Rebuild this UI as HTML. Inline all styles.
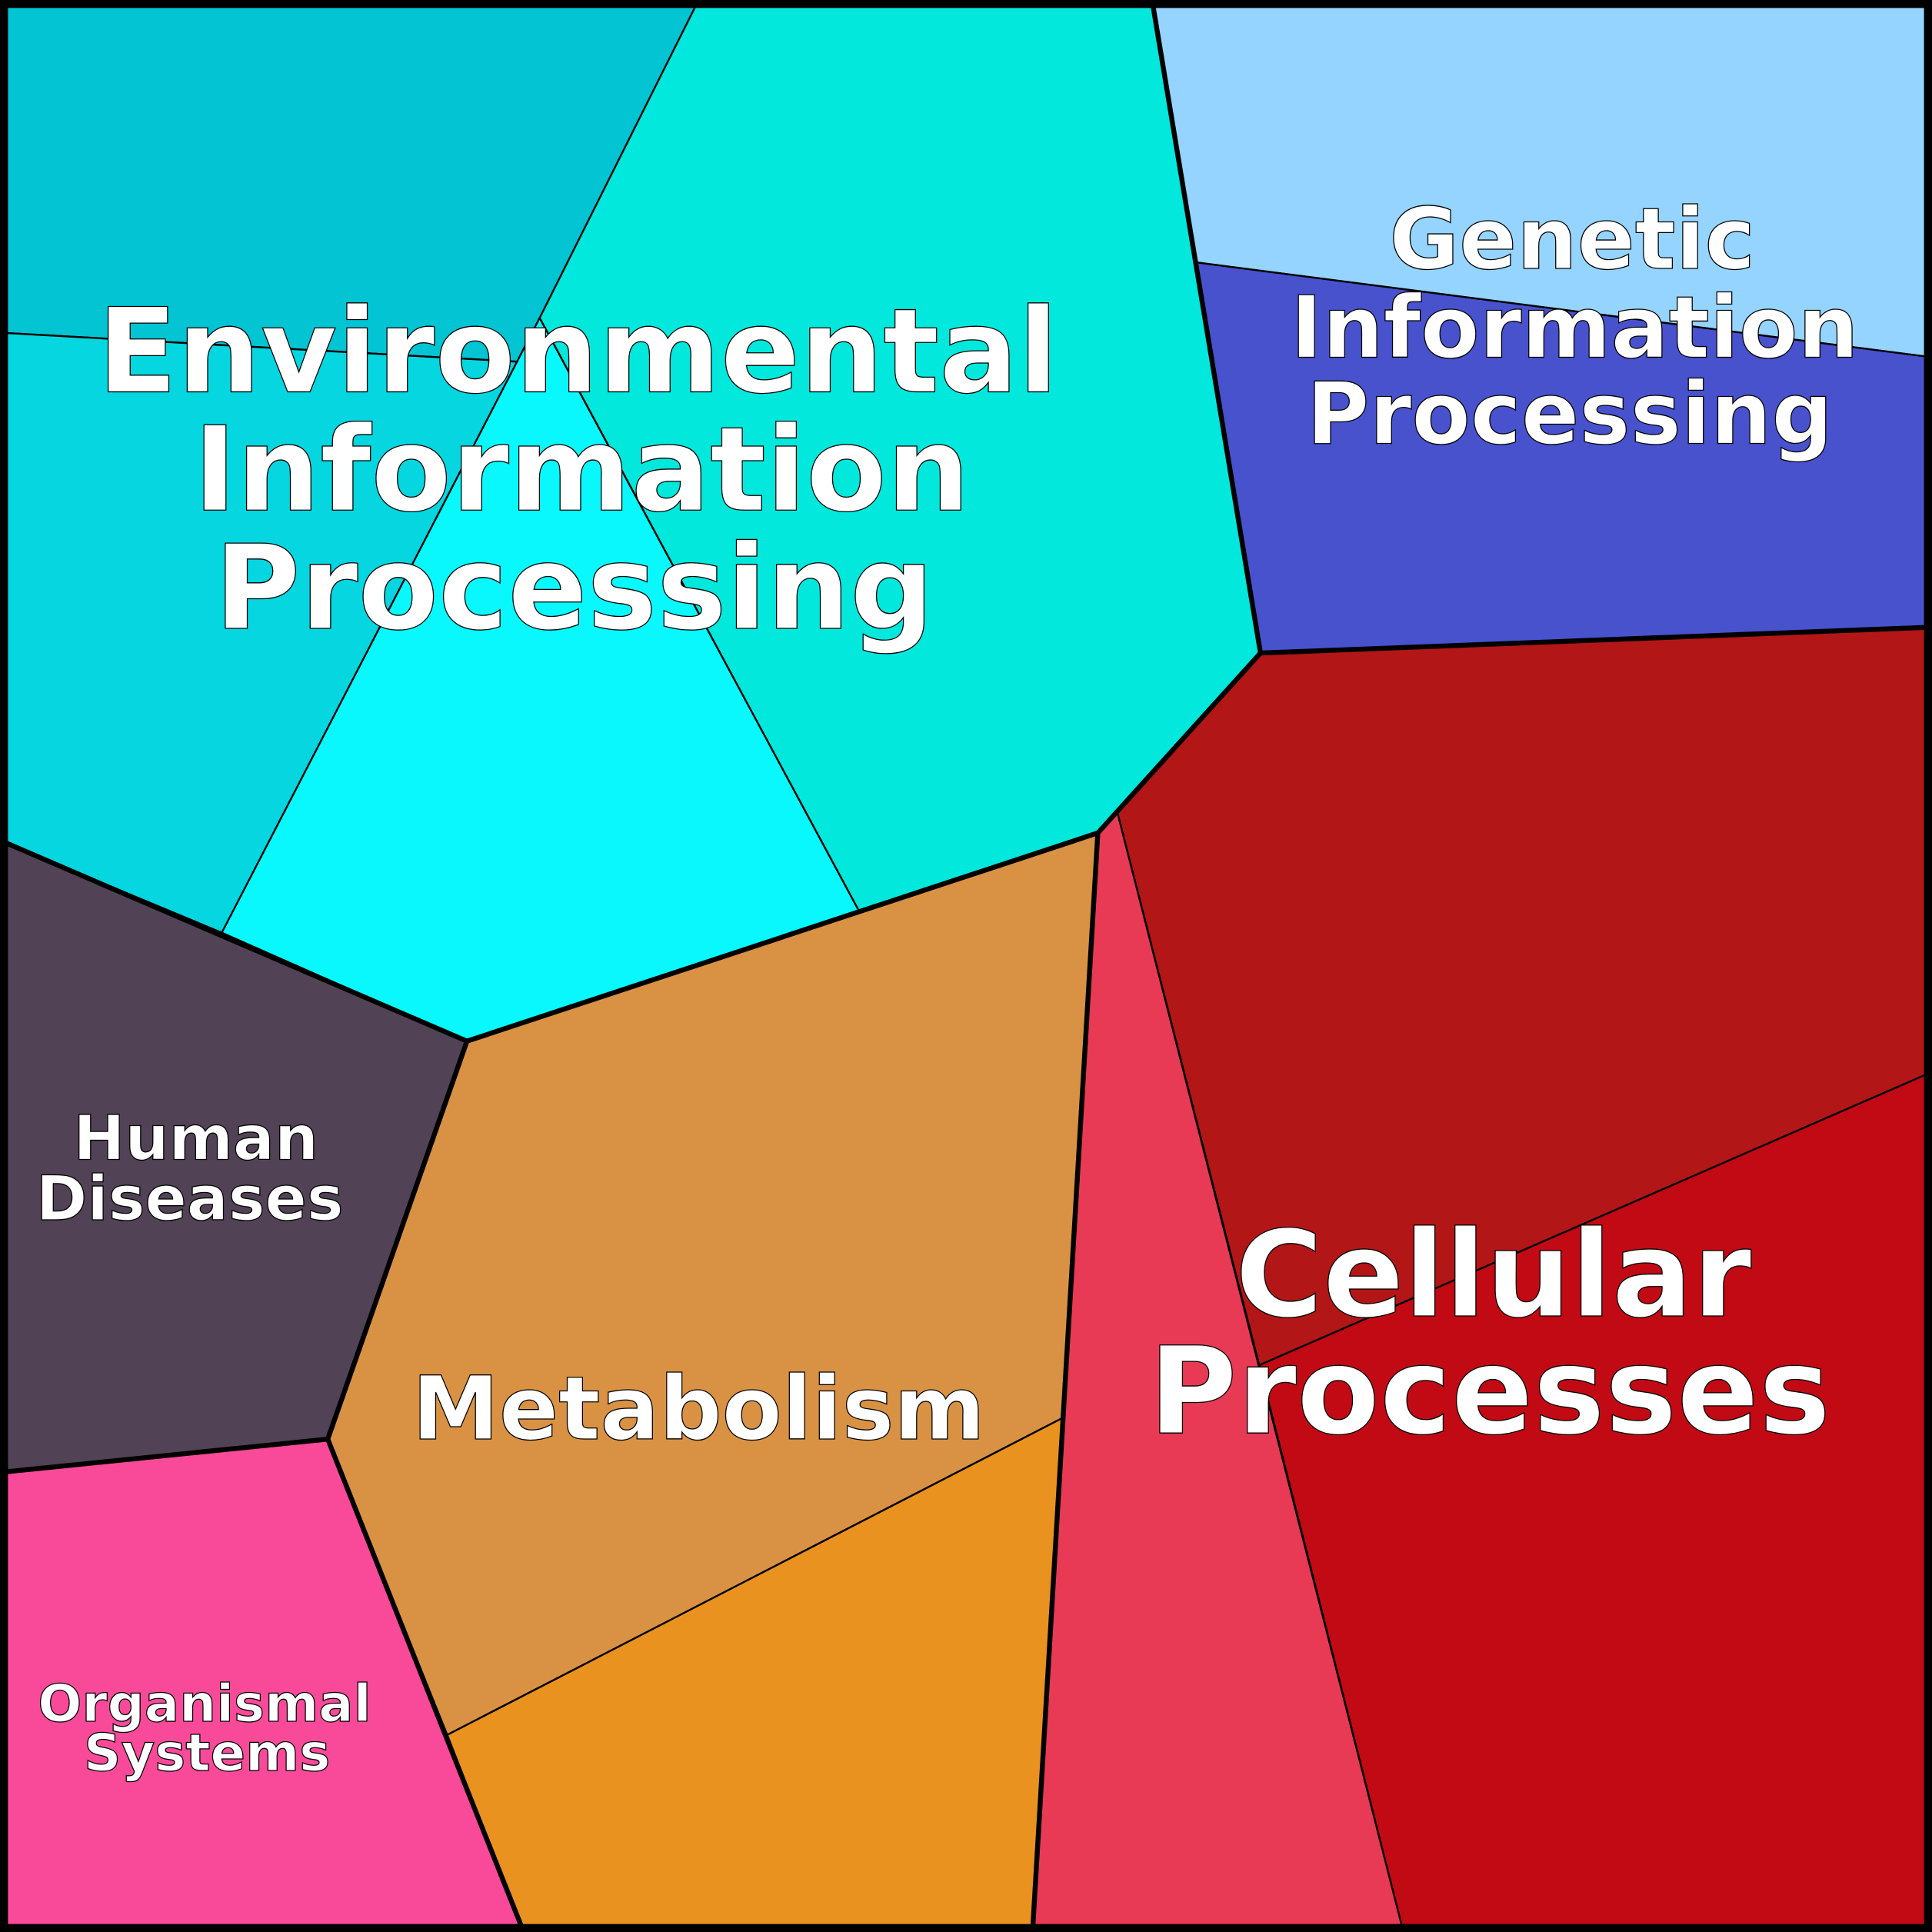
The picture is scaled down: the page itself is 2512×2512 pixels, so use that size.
<!DOCTYPE html>
<html><head><meta charset="utf-8"><style>
html,body{margin:0;padding:0;background:#000}
svg{display:block}
text{font-family:"DejaVu Sans","Liberation Sans",sans-serif;font-weight:bold;fill:#fff;text-anchor:middle;stroke:#000;stroke-width:0.8;paint-order:normal}
</style></head><body>
<svg width="2512" height="2512" viewBox="0 0 1568 1568" xmlns="http://www.w3.org/2000/svg">
<g stroke="#000" stroke-width="1.5" stroke-linejoin="round">
<polygon fill="#02c4d2" points="0,0 567,0 428,294 0,270"/>
<polygon fill="#05d6e0" points="0,270 428,294 180,757 0,682"/>
<polygon fill="#08f8fe" points="438,258 697,739 379,845 180,757"/>
<polygon fill="#02e8dc" points="567,0 935,0 1023,530 891,676 697,739 438,258"/>
<polygon fill="#94d4fe" points="935,0 1568,0 1568,290 971,213"/>
<polygon fill="#4752cc" points="971,213 1568,290 1568,509 1023,530"/>
<polygon fill="#b31616" points="1023,530 1568,509 1568,870 1022,1108 907,660"/>
<polygon fill="#c20a14" points="1568,870 1568,1568 1139,1568 1022,1108"/>
<polygon fill="#e83a55" points="891,676 907,660 1139,1568 838,1568"/>
<polygon fill="#d99244" points="379,845 891,676 862,1151 363,1408 266,1168"/>
<polygon fill="#ea9220" points="363,1408 862,1151 838,1568 425,1568"/>
<polygon fill="#514255" points="0,682 180,757 379,845 266,1168 0,1195"/>
<polygon fill="#f94a9a" points="0,1195 266,1168 425,1568 0,1568"/>
</g>
<g stroke="#000" stroke-width="4" fill="none" stroke-linejoin="round">
<polyline points="935,0 1023,530 1568,509"/>
<polyline points="0,682 379,845 891,676 1023,530"/>
<polyline points="891,676 838,1568"/>
<polyline points="379,845 266,1168 425,1568"/>
<polyline points="0,1195 266,1168"/>
<rect x="3" y="3" width="1562" height="1562" stroke-width="7"/>
</g>
<text x="469" y="318" font-size="95">Environmental</text>
<text x="472" y="414" font-size="95">Information</text>
<text x="466" y="510" font-size="95">Processing</text>
<text x="1276" y="218" font-size="69">Genetic</text>
<text x="1278" y="290" font-size="69.5">Information</text>
<text x="1274" y="360" font-size="69.5">Processing</text>
<text x="1212" y="1068" font-size="97">Cellular</text>
<text x="1209" y="1163" font-size="98">Processes</text>
<text x="567" y="1168" font-size="71">Metabolism</text>
<text x="159" y="941" font-size="50">Human</text>
<text x="154" y="990" font-size="50">Diseases</text>
<text x="166" y="1397" font-size="42">Organismal</text>
<text x="168" y="1437" font-size="42">Systems</text>
</svg>
</body></html>
